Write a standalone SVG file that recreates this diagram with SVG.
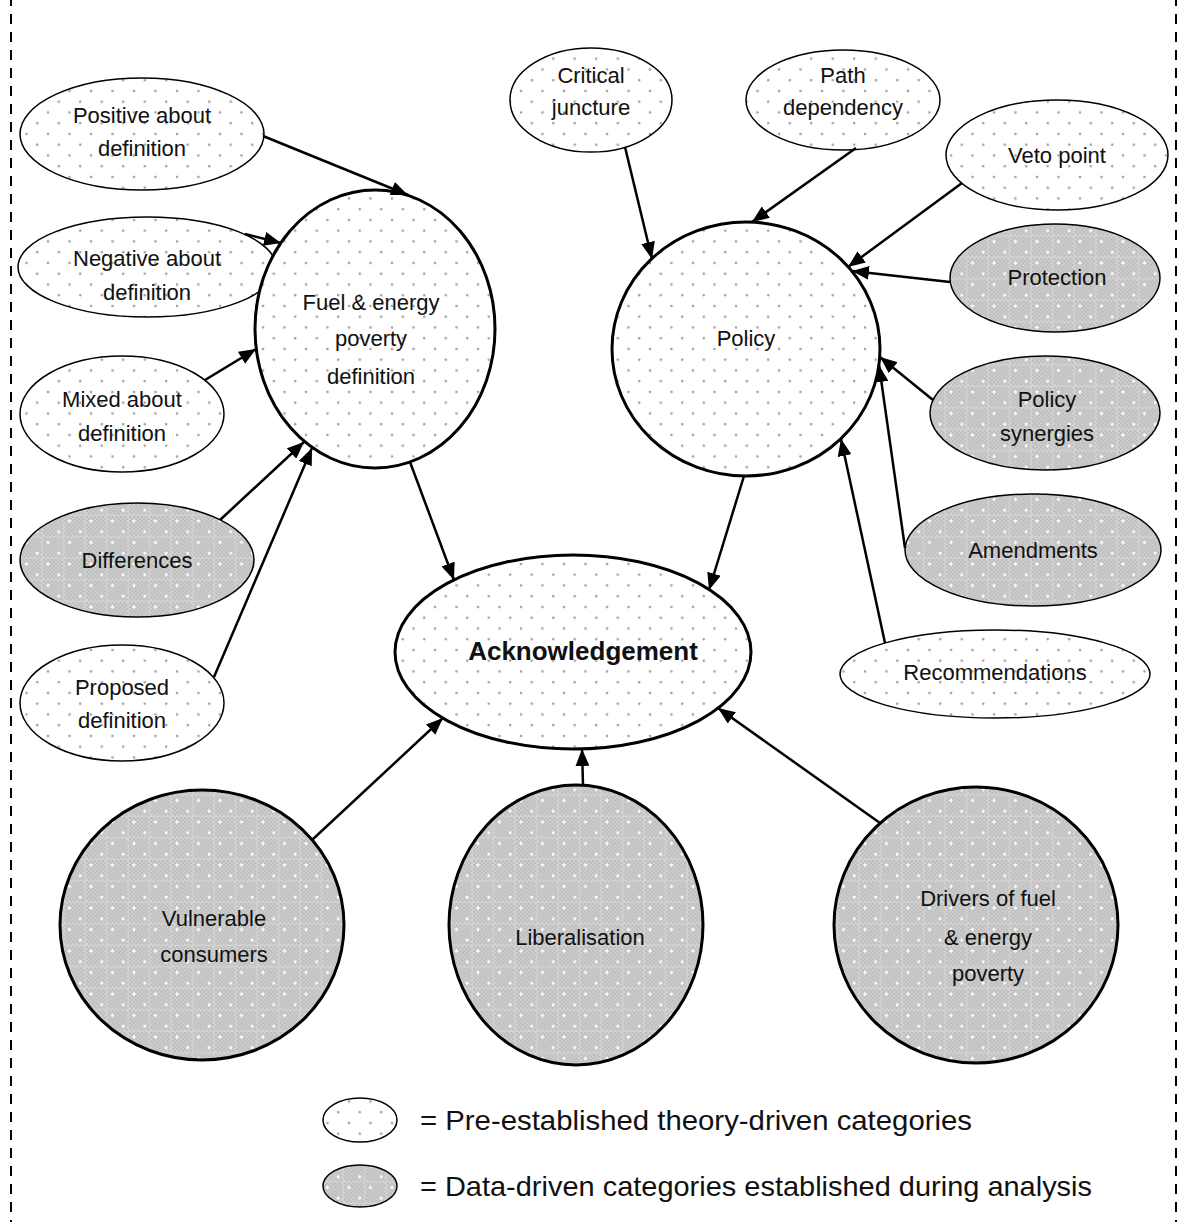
<svg xmlns="http://www.w3.org/2000/svg" width="1187" height="1222" viewBox="0 0 1187 1222">
<defs>
<pattern id="dots" width="21.5" height="21.5" patternUnits="userSpaceOnUse">
<rect width="21.5" height="21.5" fill="#ffffff"/>
<circle cx="5" cy="5" r="1.3" fill="#a0a0a0"/>
<circle cx="15.75" cy="15.75" r="1.3" fill="#a0a0a0"/>
</pattern>
<pattern id="grey" width="21.5" height="21.5" patternUnits="userSpaceOnUse">
<rect width="21.5" height="21.5" fill="#d2d2d2"/>
<path d="M0 0h2v2H0zM4 0h2v2H4zM8 0h2v2H8zM12 0h2v2h-2zM16 0h2v2h-2zM2 2h2v2H2zM6 2h2v2H6zM10 2h2v2h-2zM14 2h2v2h-2zM18 2h2v2h-2zM0 4h2v2H0zM4 4h2v2H4zM8 4h2v2H8zM12 4h2v2h-2zM16 4h2v2h-2zM2 6h2v2H2zM6 6h2v2H6zM10 6h2v2h-2zM14 6h2v2h-2zM18 6h2v2h-2zM0 8h2v2H0zM4 8h2v2H4zM8 8h2v2H8zM12 8h2v2h-2zM16 8h2v2h-2zM2 10h2v2H2zM6 10h2v2H6zM10 10h2v2h-2zM14 10h2v2h-2zM18 10h2v2h-2zM0 12h2v2H0zM4 12h2v2H4zM8 12h2v2H8zM12 12h2v2h-2zM16 12h2v2h-2zM2 14h2v2H2zM6 14h2v2H6zM10 14h2v2h-2zM14 14h2v2h-2zM18 14h2v2h-2zM0 16h2v2H0zM4 16h2v2H4zM8 16h2v2H8zM12 16h2v2h-2zM16 16h2v2h-2zM2 18h2v2H2zM6 18h2v2H6zM10 18h2v2h-2zM14 18h2v2h-2zM18 18h2v2h-2z" fill="#bababa"/>
<circle cx="5" cy="5" r="1.5" fill="#ffffff"/>
<circle cx="15.75" cy="15.75" r="1.5" fill="#ffffff"/>
</pattern>
<marker id="ah" markerUnits="userSpaceOnUse" markerWidth="18" markerHeight="14" refX="17" refY="7" orient="auto">
<path d="M0,0 L17,7 L0,14 z" fill="#000"/>
</marker>
</defs>
<style>
.lt{fill:url(#dots);stroke:#000;stroke-width:1.5}
.dk{fill:url(#grey);stroke:#000;stroke-width:1.5}
.big{stroke-width:3}
text{font-family:"Liberation Sans",Arial,sans-serif;font-size:22px;fill:#111;text-anchor:middle}
.b{font-weight:bold;font-size:26px}
.leg{font-size:28px;text-anchor:start}
.c line{stroke:#000;stroke-width:2.5;marker-end:url(#ah)}
</style>
<rect width="1187" height="1222" fill="#fff"/>
<g id="border" stroke="#000" stroke-width="2" stroke-dasharray="10 8">
<line x1="11" y1="-4" x2="11" y2="1222"/>
<line x1="1176" y1="-4" x2="1176" y2="1222"/>
</g>
<g id="n-positive"><ellipse class="lt" cx="142" cy="134" rx="122" ry="56"/><text x="142" y="123">Positive about</text><text x="142" y="156">definition</text></g>
<g id="n-negative"><ellipse class="lt" cx="147" cy="267" rx="129" ry="50"/><text x="147" y="266">Negative about</text><text x="147" y="300">definition</text></g>
<g id="n-mixed"><ellipse class="lt" cx="122" cy="414" rx="102" ry="58"/><text x="122" y="407">Mixed about</text><text x="122" y="441">definition</text></g>
<g id="n-differences"><ellipse class="dk" cx="137" cy="560" rx="117" ry="57"/><text x="137" y="568">Differences</text></g>
<g id="n-proposed"><ellipse class="lt" cx="122" cy="703" rx="102" ry="58"/><text x="122" y="695">Proposed</text><text x="122" y="728">definition</text></g>
<g id="n-fuel"><ellipse class="lt big" cx="375" cy="329" rx="120" ry="139"/><text x="371" y="310">Fuel &amp; energy</text><text x="371" y="346">poverty</text><text x="371" y="384">definition</text></g>
<g id="n-policy"><ellipse class="lt big" cx="746" cy="349" rx="134" ry="127"/><text x="746" y="346">Policy</text></g>
<g id="n-critical"><ellipse class="lt" cx="591" cy="100" rx="81" ry="52"/><text x="591" y="83">Critical</text><text x="591" y="115">juncture</text></g>
<g id="n-path"><ellipse class="lt" cx="843" cy="100" rx="97" ry="50"/><text x="843" y="83">Path</text><text x="843" y="115">dependency</text></g>
<g id="n-veto"><ellipse class="lt" cx="1057" cy="155" rx="111" ry="55"/><text x="1057" y="163">Veto point</text></g>
<g id="n-protection"><ellipse class="dk" cx="1055" cy="278" rx="105" ry="54"/><text x="1057" y="285">Protection</text></g>
<g id="n-synergies"><ellipse class="dk" cx="1045" cy="413" rx="115" ry="57"/><text x="1047" y="407">Policy</text><text x="1047" y="441">synergies</text></g>
<g id="n-amendments"><ellipse class="dk" cx="1033" cy="550" rx="128" ry="56"/><text x="1033" y="558">Amendments</text></g>
<g id="n-recommendations"><ellipse class="lt" cx="995" cy="674" rx="155" ry="44"/><text x="995" y="680">Recommendations</text></g>
<g id="n-ack"><ellipse class="lt big" cx="573" cy="652" rx="178" ry="97"/><text class="b" x="583" y="660">Acknowledgement</text></g>
<g id="n-vulnerable"><ellipse class="dk big" cx="202" cy="925" rx="142" ry="135"/><text x="214" y="926">Vulnerable</text><text x="214" y="962">consumers</text></g>
<g id="n-liberalisation"><ellipse class="dk big" cx="576" cy="925" rx="127" ry="140"/><text x="580" y="945">Liberalisation</text></g>
<g id="n-drivers"><ellipse class="dk big" cx="976" cy="925" rx="142" ry="138"/><text x="988" y="906">Drivers of fuel</text><text x="988" y="945">&amp; energy</text><text x="988" y="981">poverty</text></g>
<g class="c" id="connectors">
<line x1="263" y1="136" x2="408" y2="195"/>
<line x1="245" y1="234" x2="281" y2="243"/>
<line x1="205" y1="380" x2="256" y2="349"/>
<line x1="220" y1="520" x2="304" y2="442"/>
<line x1="214" y1="677" x2="312" y2="448"/>
<line x1="410" y1="462" x2="454" y2="580"/>
<line x1="744" y1="476" x2="709" y2="590"/>
<line x1="625" y1="147" x2="652" y2="259"/>
<line x1="856" y1="148" x2="752" y2="222"/>
<line x1="962" y1="183" x2="848" y2="267"/>
<line x1="950" y1="282" x2="852" y2="271"/>
<line x1="933" y1="400" x2="880" y2="357"/>
<line x1="905" y1="548" x2="879" y2="365"/>
<line x1="885" y1="643" x2="841" y2="439"/>
<line x1="312" y1="840" x2="443" y2="718"/>
<line x1="583" y1="785" x2="582" y2="749"/>
<line x1="880" y1="823" x2="718" y2="708"/>
</g>
<g id="legend">
<ellipse class="lt" cx="360" cy="1120" rx="37" ry="22"/>
<text class="leg" x="420" y="1130" textLength="552" lengthAdjust="spacingAndGlyphs">= Pre-established theory-driven categories</text>
<ellipse class="dk" cx="360" cy="1186" rx="37" ry="21"/>
<text class="leg" x="420" y="1196" textLength="672" lengthAdjust="spacingAndGlyphs">= Data-driven categories established during analysis</text>
</g>
</svg>
